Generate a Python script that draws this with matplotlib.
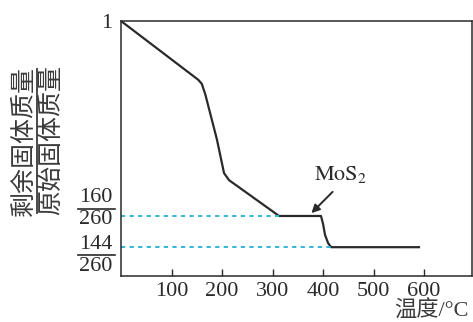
import matplotlib.pyplot as plt
import matplotlib.transforms as mtransforms
from matplotlib.lines import Line2D

plt.rcParams['font.family'] = ['Liberation Serif', 'Noto Sans CJK SC']
plt.rcParams['mathtext.fontset'] = 'stix'

# temperature (deg C) vs remaining / original solid mass
temp = [0, 153, 160, 167, 190, 204, 214, 313, 396, 400, 404, 410, 416, 590]
ratio = [1, 0.884, 0.876, 0.855, 0.766, 0.70, 0.686, 160 / 260, 160 / 260,
         0.60, 0.578, 0.562, 144 / 260, 144 / 260]

levels = [160 / 260, 144 / 260]
level_ends = [313, 416]
level_labels = [("160", "260"), ("144", "260")]
xticks = [100, 200, 300, 400, 500, 600]

ink = '#2a2a2a'
cyan = '#35b6d6'

fig = plt.figure(figsize=(4.73, 3.22), dpi=100)
ax = fig.add_axes([121 / 473, 1 - 276 / 322, 351 / 473, 255 / 322])
ax.set_xlim(0, 695)
ax.set_ylim(0.497, 1)

ax.plot(temp, ratio, color=ink, lw=1.6)
for lv, xe in zip(levels, level_ends):
    ax.plot([0, xe], [lv, lv], color=cyan, lw=1.4, ls=(0, (2.2, 2.2)))

ax.set_xticks(xticks)
ax.set_xticklabels([str(t) for t in xticks], fontsize=16, color=ink)
ax.tick_params(axis='x', direction='in', length=5, width=1, color=ink, pad=4)
ax.set_yticks([1])
ax.set_yticklabels(['1'], fontsize=16, color=ink)
ax.tick_params(axis='y', length=0, pad=6)
for s in ax.spines.values():
    s.set_color(ink)
    s.set_linewidth(1.1)

ax.text(434, 0.698, r'$\mathrm{MoS}_2$', ha='center', va='center',
        fontsize=16, color=ink)
ax.annotate('', xy=(377, 0.621), xytext=(419, 0.663),
            arrowprops=dict(arrowstyle='-|>', color=ink, lw=1.4,
                            mutation_scale=12, shrinkA=0, shrinkB=0))

# fraction tick labels drawn in figure pixels
ident = mtransforms.IdentityTransform()
fig.canvas.draw()
H = 322
bar_offsets = [7, -8]
for (num, den), lv, off in zip(level_labels, levels, bar_offsets):
    yb = ax.transData.transform((0, lv))[1] + off
    fig.add_artist(Line2D([78, 115], [yb, yb], color=ink, lw=1.2, transform=ident))
    fig.text(96, yb + 1.5, num, ha='center', va='bottom', fontsize=16,
             color=ink, transform=ident)
    fig.text(96, yb - 1.5, den, ha='center', va='top', fontsize=16,
             color=ink, transform=ident)

# y axis label as a rotated fraction
fig.text(24, H - 141, '剩余固体质量', rotation=90, ha='center', va='center',
         fontsize=18, color='#3a3a3a', transform=ident)
fig.add_artist(Line2D([37, 37], [H - 213, H - 69], color='#3a3a3a', lw=1.3,
                      transform=ident))
fig.text(52, H - 140, '原始固体质量', rotation=90, ha='center', va='center',
         fontsize=18, color='#3a3a3a', transform=ident)

fig.text(394, H - 311, '温度/°C', ha='left', va='center', fontsize=16,
         color='#3a3a3a', transform=ident)

fig.savefig('out.png', dpi=100)
